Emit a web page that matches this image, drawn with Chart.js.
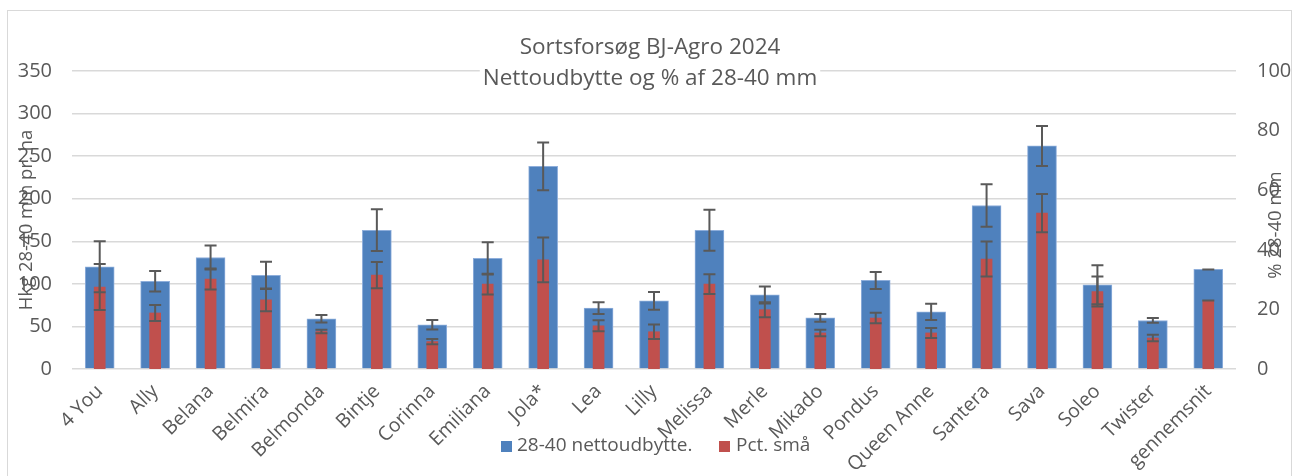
<!DOCTYPE html>
<html>
<head>
<meta charset="utf-8">
<script src="https://cdn.jsdelivr.net/npm/chart.js@4/dist/chart.umd.min.js"></script>
<style>
  html, body { margin: 0; padding: 0; background: #fff; }
  #wrap { position: relative; width: 1299px; height: 476px; }
  #ramme { position: absolute; left: 7px; top: 10px; width: 1285px; height: 480px; border: 1px solid #d9d9d9; box-sizing: border-box; }
  canvas { position: absolute; left: 0; top: 0; }
</style>
</head>
<body>
<div id="wrap">
  <div id="ramme"></div>
  <canvas id="sortChart" width="1299" height="476"></canvas>
</div>
<script>
// sorter i forsøget
const sorter = ["4 You", "Ally", "Belana", "Belmira", "Belmonda", "Bintje", "Corinna", "Emiliana", "Jola*", "Lea",
  "Lilly", "Melissa", "Merle", "Mikado", "Pondus", "Queen Anne", "Santera", "Sava", "Soleo", "Twister", "gennemsnit"];

// hkg 28-40 mm pr. ha (venstre akse) og fejl
const nettoudbytte = [120, 103, 131, 110, 59, 163, 52, 130, 238, 71.5, 80, 163, 87, 60, 104, 67, 192, 262, 99, 57, 117];
const nettoFejl = [30, 12, 14, 16, 4.5, 24.5, 5.5, 19, 28, 7, 10.5, 24, 10, 4.5, 10, 9.5, 25, 23.5, 23, 2.8, 0];

// pct. små (højre akse) og fejl
const pctSmaa = [27.5, 18.8, 30.2, 23.2, 12.6, 31.5, 9.2, 28.5, 36.6, 14.5, 12.5, 28.5, 19.9, 12.1, 17.1, 12.1, 36.9, 52.3, 26, 10.4, 23];
const pctFejl = [7.7, 2.7, 3.5, 3.8, 0.6, 4.4, 0.9, 3.5, 7.5, 1.85, 2.45, 3.3, 2.5, 1.1, 1.75, 1.7, 5.9, 6.4, 5, 1.1, 0];

const venstreTicks = [0, 50, 100, 150, 200, 250, 300, 350];
const hoejreTicks = [0, 20, 40, 60, 80, 100];

const titel = ["Sortsforsøg BJ-Agro 2024", "Nettoudbytte og % af 28-40 mm"];
const serieNavne = ["28-40 nettoudbytte.", "Pct. små"];

const BLAA = "#4f81bd";
const ROED = "#c0504d";
const GRAA = "#595959";
const FONT = "'Open Sans', sans-serif";

// fejlbjælker, titel, aksetitler og forklaring tegnes her
const ekstraPlugin = {
  id: "ekstra",
  afterDatasetsDraw(chart) {
    const c = chart.ctx;
    c.save();
    c.strokeStyle = GRAA;
    c.lineWidth = 2;
    chart.data.datasets.forEach((ds, i) => {
      const meta = chart.getDatasetMeta(i);
      const skala = chart.scales[ds.yAxisID];
      meta.data.forEach((bar, j) => {
        const v = ds.data[j], e = ds.fejl[j];
        const yTop = skala.getPixelForValue(v + e);
        const yBund = skala.getPixelForValue(v - e);
        c.beginPath();
        c.moveTo(bar.x, yTop); c.lineTo(bar.x, yBund);
        c.moveTo(bar.x - 6, yTop); c.lineTo(bar.x + 6, yTop);
        c.moveTo(bar.x - 6, yBund); c.lineTo(bar.x + 6, yBund);
        c.stroke();
      });
    });
    c.restore();
  },
  afterDraw(chart) {
    const c = chart.ctx;
    c.save();
    // titel med hvid baggrund
    c.font = "22.5px " + FONT;
    c.textAlign = "center";
    c.textBaseline = "middle";
    const b = Math.max(...titel.map(t => c.measureText(t).width));
    c.fillStyle = "#fff";
    c.fillRect(650 - b / 2 - 3, 33, b + 6, 58);
    c.fillStyle = GRAA;
    c.fillText(titel[0], 650, 48);
    c.fillText(titel[1], 650, 79);

    // aksetitler
    c.font = "18.5px " + FONT;
    c.save();
    c.translate(27, 220);
    c.rotate(-Math.PI / 2);
    c.fillText("Hkg 28-40 mm pr. ha", 0, 0);
    c.restore();
    c.save();
    c.translate(1276, 225);
    c.rotate(-Math.PI / 2);
    c.fillText("% 28-40 mm", 0, 0);
    c.restore();

    // forklaring
    c.font = "19px " + FONT;
    c.textAlign = "left";
    c.fillStyle = BLAA;
    c.fillRect(501, 441, 11, 11);
    c.fillStyle = ROED;
    c.fillRect(719, 441, 11, 11);
    c.fillStyle = GRAA;
    c.fillText(serieNavne[0], 517, 446);
    c.fillText(serieNavne[1], 736, 446);
    c.restore();
  }
};

new Chart(document.getElementById("sortChart").getContext("2d"), {
  type: "bar",
  data: {
    labels: sorter,
    datasets: [
      {
        label: serieNavne[0],
        data: nettoudbytte,
        fejl: nettoFejl,
        yAxisID: "y",
        backgroundColor: BLAA,
        borderColor: "#8eaedb",
        borderWidth: 1,
        barThickness: 29,
        order: 1
      },
      {
        label: serieNavne[1],
        data: pctSmaa,
        fejl: pctFejl,
        yAxisID: "y2",
        backgroundColor: ROED,
        barThickness: 11,
        order: 0
      }
    ]
  },
  options: {
    responsive: false,
    animation: false,
    layout: { padding: { top: 71, left: 0, right: 0, bottom: 0 } },
    datasets: { bar: { grouped: false } },
    plugins: {
      legend: { display: false },
      title: { display: false },
      tooltip: { enabled: false }
    },
    scales: {
      x: {
        grid: { display: false },
        border: { display: false },
        ticks: {
          color: GRAA,
          font: { family: FONT, size: 19.5 },
          maxRotation: 45,
          minRotation: 45,
          autoSkip: false,
          padding: 3
        },
        afterFit(s) { s.height = 107; }
      },
      y: {
        position: "left",
        min: 0,
        max: 350,
        afterBuildTicks(s) { s.ticks = venstreTicks.map(v => ({ value: v })); },
        grid: { color: "#d9d9d9", lineWidth: 1.5, drawTicks: false },
        border: { display: false },
        ticks: { color: GRAA, font: { family: FONT, size: 20 }, padding: 20 },
        afterFit(s) { s.width = 72; }
      },
      y2: {
        position: "right",
        min: 0,
        max: 100,
        afterBuildTicks(s) { s.ticks = hoejreTicks.map(v => ({ value: v })); },
        grid: { display: false, drawTicks: false },
        border: { display: false },
        ticks: { color: GRAA, font: { family: FONT, size: 20 }, padding: 21 },
        afterFit(s) { s.width = 63; }
      }
    }
  },
  plugins: [ekstraPlugin]
});
</script>
</body>
</html>
